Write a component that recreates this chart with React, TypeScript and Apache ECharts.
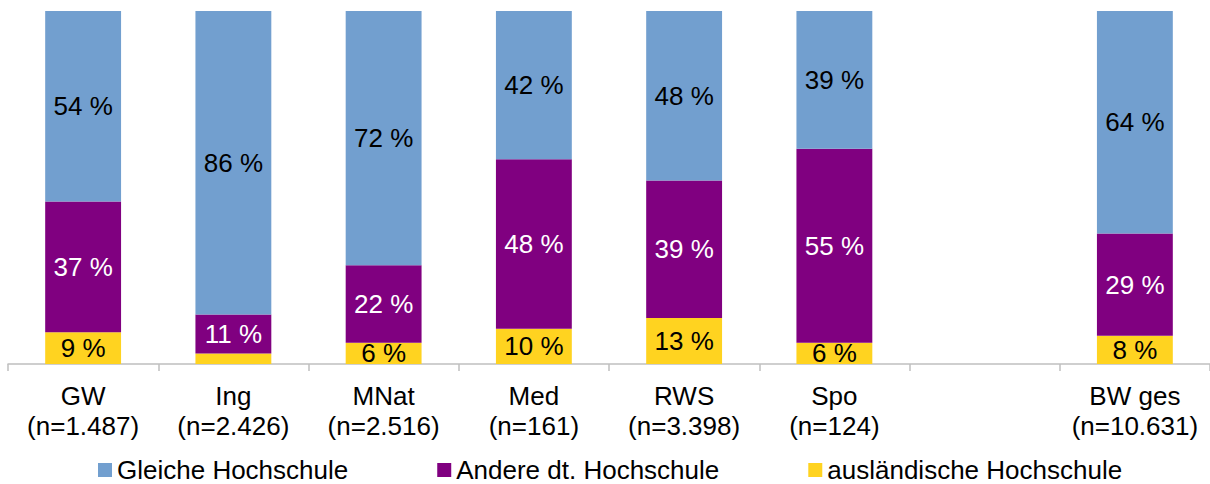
import React, { useEffect, useRef } from "react";
import * as echarts from "echarts";

const categories = ["GW", "Ing", "MNat", "Med", "RWS", "Spo", "", "BW ges"];
const sampleSizes = ["1.487", "2.426", "2.516", "161", "3.398", "124", "", "10.631"];
const auslaendisch = [9, 3, 6, 10, 13, 6, null, 8];
const andere = [37, 11, 22, 48, 39, 55, null, 29];
const gleiche = [54, 86, 72, 42, 48, 39, null, 64];

const FONT = "'Liberation Sans', Arial, sans-serif";

export default function App() {
  const ref = useRef<HTMLDivElement>(null);
  useEffect(() => {
    if (!ref.current) return;
    const chart = echarts.init(ref.current, undefined, { renderer: "svg" });
    const labels = categories.map((c, i) => (c ? `${c}\n(n=${sampleSizes[i]})` : ""));
    const fmt = (p: any) => (p.value != null && p.value >= 5 ? `${p.value} %` : "");
    const mk = (name: string, data: (number | null)[], color: string, textColor: string) => ({
      name,
      type: "bar",
      stack: "total",
      data,
      barWidth: "50.5%",
      clip: true,
      itemStyle: { color },
      label: {
        show: true,
        position: "inside",
        formatter: fmt,
        color: textColor,
        fontSize: 26,
        fontFamily: FONT,
      },
    });
    chart.setOption({
      animation: false,
      textStyle: { fontFamily: FONT },
      grid: { left: 8, right: -3, top: 11, bottom: 120, containLabel: false },
      legend: {
        left: 98,
        top: 457,
        padding: 0,
        itemWidth: 14,
        itemHeight: 14,
        itemGap: 89,
        icon: "rect",
        data: ["Gleiche Hochschule", "Andere dt. Hochschule", "ausländische Hochschule"],
        textStyle: { fontSize: 26, lineHeight: 26, color: "#000", fontFamily: FONT },
      },
      xAxis: {
        type: "category",
        data: labels,
        axisLine: { lineStyle: { color: "#bfbfbf", width: 1.5 } },
        axisTick: { show: true, length: 7, lineStyle: { color: "#bfbfbf", width: 1.5 } },
        axisLabel: {
          interval: 0,
          margin: 17,
          fontSize: 26,
          lineHeight: 30,
          color: "#000",
          fontFamily: FONT,
        },
      },
      yAxis: { type: "value", min: 0, max: 100, show: false, splitLine: { show: false } },
      series: [
        mk("ausländische Hochschule", auslaendisch, "#FFD320", "#000"),
        mk("Andere dt. Hochschule", andere, "#800080", "#fff"),
        mk("Gleiche Hochschule", gleiche, "#729FCF", "#000"),
      ],
    });
    return () => chart.dispose();
  }, []);
  return (
    <div
      ref={ref}
      style={{ position: "absolute", left: 0, top: 0, width: 1210, height: 484 }}
    />
  );
}
